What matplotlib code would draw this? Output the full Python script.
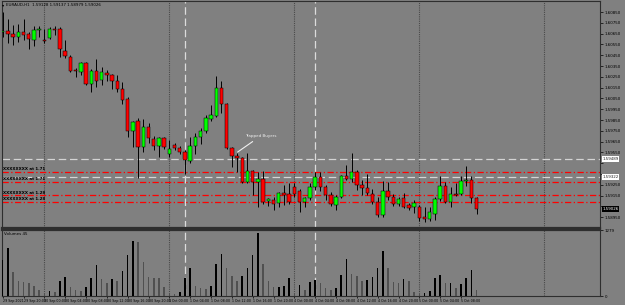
import numpy as np
import matplotlib
matplotlib.use('Agg')
import matplotlib.pyplot as plt

plt.rcParams['font.family'] = ['Liberation Sans Narrow', 'DejaVu Sans']

# EURAUD H1 candles, 29 Sep 16:00 -> 5 Oct 11:00
opens = [1.60665, 1.60674, 1.60646, 1.60618, 1.60665, 1.60646, 1.60591, 1.60683, 1.60591, 1.60609,
         1.60692, 1.60692, 1.60489, 1.60433, 1.60313, 1.60294, 1.60378, 1.60183, 1.60304, 1.60220,
         1.60285, 1.60266, 1.60211, 1.60137, 1.60044, 1.59748, 1.59841, 1.59600, 1.59785, 1.59674,
         1.59609, 1.59683, 1.59535, 1.59618, 1.59591, 1.59553, 1.59470, 1.59609, 1.59692, 1.59748,
         1.59859, 1.59887, 1.60146, 1.59998, 1.59591, 1.59516, 1.59498, 1.59276, 1.59378, 1.59276,
         1.59303, 1.59100, 1.59109, 1.59081, 1.59174, 1.59165, 1.59229, 1.59192, 1.59090, 1.59128,
         1.59229, 1.59322, 1.59229, 1.59155, 1.59063, 1.59137, 1.59331, 1.59303, 1.59368, 1.59248,
         1.59220, 1.59165, 1.59090, 1.58970, 1.59192, 1.59137, 1.59072, 1.59128, 1.59063, 1.59044,
         1.59044, 1.58952, 1.58933, 1.58979, 1.59118, 1.59239, 1.59090, 1.59165, 1.59165, 1.59285,
         1.59294, 1.59128]
highs = [1.60850, 1.60785, 1.60729, 1.60739, 1.60785, 1.60665, 1.60720, 1.60720, 1.60692, 1.60711,
         1.60720, 1.60711, 1.60591, 1.60452, 1.60331, 1.60387, 1.60387, 1.60322, 1.60415, 1.60341,
         1.60313, 1.60276, 1.60266, 1.60202, 1.60063, 1.59841, 1.59868, 1.59859, 1.59822, 1.59702,
         1.59692, 1.59692, 1.59665, 1.59637, 1.59609, 1.59572, 1.59692, 1.59729, 1.59776, 1.59896,
         1.59989, 1.60257, 1.60211, 1.60007, 1.59600, 1.59544, 1.59507, 1.59544, 1.59387, 1.59368,
         1.59378, 1.59128, 1.59137, 1.59183, 1.59248, 1.59266, 1.59266, 1.59211, 1.59137, 1.59266,
         1.59368, 1.59368, 1.59248, 1.59183, 1.59155, 1.59340, 1.59433, 1.59544, 1.59387, 1.59294,
         1.59350, 1.59211, 1.59137, 1.59285, 1.59276, 1.59165, 1.59137, 1.59174, 1.59081, 1.59109,
         1.59063, 1.59044, 1.59044, 1.59137, 1.59331, 1.59276, 1.59229, 1.59266, 1.59331, 1.59424,
         1.59331, 1.59137]
lows = [1.60618, 1.60563, 1.60544, 1.60572, 1.60591, 1.60507, 1.60535, 1.60618, 1.60563, 1.60600,
        1.60637, 1.60433, 1.60424, 1.60294, 1.60248, 1.60266, 1.60174, 1.60109, 1.60155, 1.60174,
        1.60211, 1.60137, 1.60109, 1.59998, 1.59692, 1.59600, 1.59313, 1.59553, 1.59637, 1.59572,
        1.59507, 1.59581, 1.59507, 1.59572, 1.59535, 1.59350, 1.59452, 1.59535, 1.59628, 1.59729,
        1.59841, 1.59878, 1.59915, 1.59581, 1.59415, 1.59368, 1.59266, 1.59266, 1.59155, 1.59044,
        1.59072, 1.59053, 1.59016, 1.59044, 1.59063, 1.59072, 1.59137, 1.58998, 1.59044, 1.59109,
        1.59202, 1.59192, 1.59109, 1.59053, 1.59016, 1.59128, 1.59294, 1.59276, 1.59202, 1.59155,
        1.59155, 1.59072, 1.58952, 1.58952, 1.59109, 1.59053, 1.59053, 1.59035, 1.59016, 1.58989,
        1.58915, 1.58905, 1.58915, 1.58924, 1.59100, 1.59081, 1.59044, 1.59146, 1.59155, 1.59239,
        1.59081, 1.58979]
closes = [1.60674, 1.60646, 1.60618, 1.60665, 1.60637, 1.60600, 1.60683, 1.60692, 1.60581, 1.60692,
          1.60683, 1.60507, 1.60442, 1.60304, 1.60304, 1.60378, 1.60183, 1.60304, 1.60211, 1.60294,
          1.60266, 1.60211, 1.60137, 1.60035, 1.59748, 1.59831, 1.59600, 1.59785, 1.59683, 1.59609,
          1.59683, 1.59600, 1.59581, 1.59591, 1.59553, 1.59479, 1.59609, 1.59692, 1.59748, 1.59868,
          1.59896, 1.60146, 1.59998, 1.59591, 1.59516, 1.59498, 1.59276, 1.59378, 1.59276, 1.59303,
          1.59090, 1.59118, 1.59072, 1.59174, 1.59155, 1.59090, 1.59165, 1.59090, 1.59128, 1.59229,
          1.59322, 1.59229, 1.59155, 1.59072, 1.59137, 1.59331, 1.59303, 1.59368, 1.59248, 1.59220,
          1.59174, 1.59090, 1.58970, 1.59192, 1.59137, 1.59072, 1.59118, 1.59044, 1.59035, 1.59081,
          1.58942, 1.58933, 1.58998, 1.59118, 1.59239, 1.59090, 1.59165, 1.59155, 1.59285, 1.59294,
          1.59128, 1.59026]
volumes = [703, 931, 467, 296, 266, 247, 201, 125, 66, 95,
           76, 296, 372, 182, 120, 106, 182, 348, 595, 329,
           247, 329, 285, 486, 804, 1075, 1045, 657, 372, 348,
           342, 171, 63, 44, 82, 348, 551, 201, 158, 139,
           201, 614, 823, 551, 380, 296, 391, 551, 785, 1227,
           614, 285, 182, 183, 196, 342, 57, 215, 125, 277,
           315, 253, 152, 125, 163, 405, 709, 429, 386, 285,
           315, 361, 538, 880, 538, 266, 253, 329, 296, 87,
           38, 57, 95, 342, 410, 253, 256, 158, 234, 348,
           505, 125]

time_labels = ['29 Sep 2021', '29 Sep 20:00', '30 Sep 00:00', '30 Sep 04:00', '30 Sep 08:00',
               '30 Sep 12:00', '30 Sep 16:00', '30 Sep 20:00', '1 Oct 00:00', '1 Oct 04:00',
               '1 Oct 08:00', '1 Oct 12:00', '1 Oct 16:00', '1 Oct 20:00', '4 Oct 00:00',
               '4 Oct 04:00', '4 Oct 08:00', '4 Oct 12:00', '4 Oct 16:00', '4 Oct 20:00',
               '5 Oct 00:00', '5 Oct 04:00', '5 Oct 08:00']
day_starts = [8, 32, 56, 80, 104]
marker_bars = [35, 60]

gray_levels = [1.59489, 1.59322]
red_levels = [1.59371, 1.59278, 1.59155, 1.59093]
red_names = ['XXXXXXXX at 1.71', 'XXXXXXXX at 1.71', 'XXXXXXXX at 1.28', 'XXXXXXXX at 1.28']

price_ticks = [round(1.60850 - 0.001 * n, 5) for n in range(20)]
vol_max = 1279

BG = '#808080'
FS = 2.9
x = np.arange(len(opens))
o = np.array(opens); c = np.array(closes)

fig = plt.figure(figsize=(6.25, 3.05), dpi=100, facecolor=BG)
W, H = 625, 305
ax = fig.add_axes([2 / W, 77 / H, 598 / W, 227 / H], facecolor=BG)
axv = fig.add_axes([2 / W, 9 / H, 598 / W, 66 / H], facecolor=BG, sharex=ax)

step = 5.208  # px per bar
left = -(2 - 1.3) / step
ax.set_xlim(left, left + 598 / step)
ax.set_ylim(1.58850, 1.60952)

# candles
ax.vlines(x, lows, highs, color='black', lw=0.7, zorder=3)
up = c >= o
body = np.maximum(np.abs(c - o), 0.00003)
ax.bar(x, body, bottom=np.minimum(o, c), width=0.66,
       color=np.where(up, '#00ff00', '#ff0000'), edgecolor='black', lw=0.35, zorder=4)

# levels
for lv in gray_levels:
    ax.axhline(lv, color='#d4d4d4', lw=0.9, ls=(0, (6, 3)), zorder=2)
for lv, name in zip(red_levels, red_names):
    ax.axhline(lv, color='#ff0000', lw=0.9, ls=(0, (5, 2, 1, 2)), zorder=2)
    ax.text(left + 0.2, lv + 0.00004, name, fontsize=FS, color='black', fontweight='bold',
            va='bottom', ha='left', zorder=5)

for a in (ax, axv):
    for d in day_starts:
        a.axvline(d, color='#4a4a4a', lw=0.8, ls=(0, (1, 1)), zorder=1)
    for m in marker_bars:
        a.axvline(m, color='#dcdcdc', lw=0.9, ls=(0, (6, 3)), zorder=1)

ax.annotate('Trapped Buyers', xy=(45.1, 1.59553), xytext=(46.5, 1.59702),
            fontsize=FS, color='#f0f0f0', va='center', ha='left',
            arrowprops=dict(arrowstyle='-', color='#f0f0f0', lw=0.8, shrinkA=1, shrinkB=0))

# right price axis, boxes hide the tick labels they sit on
boxes = gray_levels + [closes[-1]]
shown = [p for p in price_ticks if min(abs(p - b) for b in boxes) > 0.0005]
ax.yaxis.tick_right()
ax.set_yticks(price_ticks)
ax.set_yticklabels([f'{p:.5f}' if p in shown else '' for p in price_ticks])
ax.tick_params(axis='y', length=2, width=0.5, labelsize=FS, pad=1.5, colors='black')
ax.tick_params(axis='x', length=0, labelbottom=False)

ytr = ax.get_yaxis_transform()
for lv in gray_levels:
    ax.text(1.004, lv, f'{lv:.5f}', transform=ytr, fontsize=FS, va='center', ha='left',
            color='#202020', bbox=dict(facecolor='white', edgecolor='none', pad=0.6), clip_on=False)
ax.text(1.004, closes[-1], f'{closes[-1]:.5f}', transform=ytr, fontsize=FS, va='center', ha='left',
        color='white', bbox=dict(facecolor='black', edgecolor='none', pad=0.6), clip_on=False)

# volume pane
vols = np.array(volumes)
vcol = ['black'] + ['black' if vols[i] > vols[i - 1] else '#505050' for i in range(1, len(vols))]
axv.bar(x, vols, width=0.3, color=vcol, zorder=3)
axv.set_ylim(0, vol_max)
axv.yaxis.tick_right()
axv.set_yticks([0, vol_max])
axv.set_yticklabels(['0', str(vol_max)])
axv.tick_params(axis='y', length=2, width=0.5, labelsize=FS, pad=1.5)
axv.text(0.003, 0.97, 'Volumes 45', transform=axv.transAxes, fontsize=FS, va='top', ha='left')

axv.set_xticks(x[::4][:len(time_labels)])
axv.set_xticklabels(time_labels, ha='left')
axv.tick_params(axis='x', length=1.5, width=0.5, labelsize=2.3, pad=0.6)

for a in (ax, axv):
    for s in a.spines.values():
        s.set_color('#2e2e2e')
        s.set_linewidth(0.8)
ax.spines['bottom'].set_linewidth(1.6)
axv.spines['top'].set_linewidth(1.6)

fig.text(2 / W, 1 - 5 / H, '\u25be', fontsize=3.2, va='center', ha='left', family='DejaVu Sans')
fig.text(6 / W, 1 - 5 / H,
         f'EURAUD,H1  {opens[-1]:.5f} {highs[-1]:.5f} {lows[-1]:.5f} {closes[-1]:.5f}',
         fontsize=FS, va='center', ha='left', color='black')

fig.savefig('out.png', dpi=100, facecolor=BG)
